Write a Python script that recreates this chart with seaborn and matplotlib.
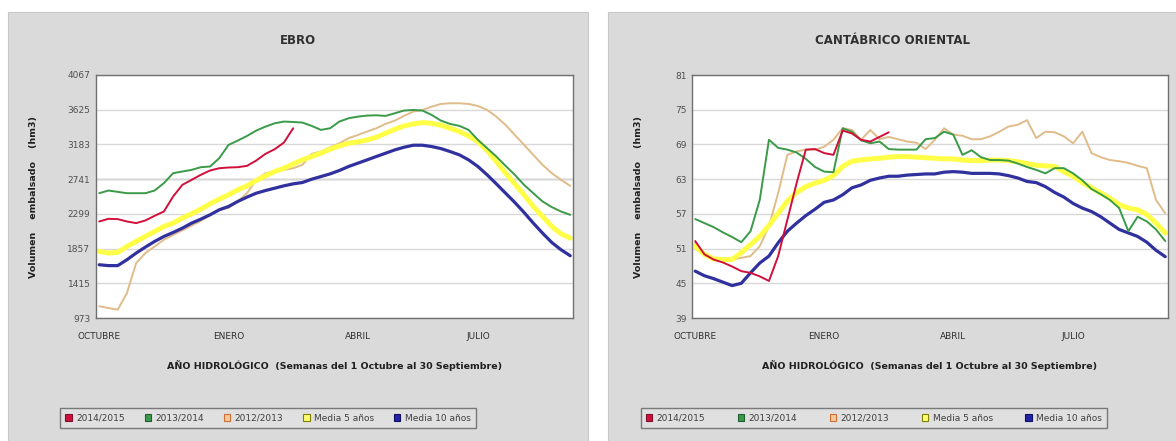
import pandas as pd
import numpy as np
import matplotlib.pyplot as plt
import matplotlib.patches as mpatches
import seaborn as sns

# Semanas del año hidrológico (1 Octubre - 30 Septiembre)
weeks = list(range(1, 53))
month_ticks = [1, 15, 29, 42]
month_labels = ['OCTUBRE', 'ENERO', 'ABRIL', 'JULIO']
series_names = ['2014/2015', '2013/2014', '2012/2013', 'Media 5 años', 'Media 10 años']

# ---- EBRO (hm3) ----
ebro_ticks = [973, 1415, 1857, 2299, 2741, 3183, 3625, 4067]
ebro_2014_2015 = [2202, 2236, 2232, 2202, 2181, 2215, 2274, 2329, 2520, 2668, 2732,
                  2796, 2851, 2880, 2889, 2893, 2910, 2978, 3063, 3122, 3207, 3389]
ebro_2013_2014 = [2562, 2596, 2579, 2562, 2562, 2562, 2596, 2690, 2817, 2838, 2859,
                  2893, 2902, 3008, 3177, 3232, 3291, 3359, 3410, 3452, 3474, 3469,
                  3461, 3419, 3368, 3389, 3474, 3516, 3537, 3550, 3554, 3546, 3580,
                  3614, 3622, 3614, 3558, 3486, 3444, 3419, 3368, 3241, 3135, 3029,
                  2910, 2796, 2668, 2562, 2457, 2385, 2329, 2287]
ebro_2012_2013 = [1122, 1100, 1079, 1291, 1673, 1800, 1884, 1969, 2030, 2090, 2150,
                  2210, 2280, 2351, 2372, 2457, 2562, 2732, 2817, 2838, 2859, 2880,
                  2923, 3063, 3092, 3147, 3198, 3262, 3304, 3347, 3389, 3444, 3486,
                  3546, 3601, 3622, 3664, 3698, 3707, 3707, 3698, 3673, 3622, 3537,
                  3431, 3304, 3177, 3050, 2923, 2817, 2732, 2656]
ebro_media5 = [1821, 1800, 1808, 1884, 1948, 2012, 2075, 2139, 2181, 2245, 2300,
               2359, 2427, 2486, 2541, 2605, 2656, 2724, 2783, 2838, 2880, 2935,
               2986, 3029, 3071, 3122, 3164, 3198, 3215, 3241, 3274, 3325, 3376,
               3419, 3444, 3461, 3452, 3427, 3389, 3347, 3291, 3219, 3105, 2965,
               2817, 2681, 2541, 2393, 2266, 2139, 2045, 1990]
ebro_media10 = [1651, 1640, 1640, 1715, 1800, 1876, 1948, 2011, 2062, 2117, 2181,
                2232, 2287, 2351, 2393, 2457, 2512, 2562, 2596, 2626, 2656, 2681,
                2698, 2740, 2774, 2808, 2851, 2902, 2944, 2986, 3029, 3071, 3113,
                3147, 3173, 3173, 3156, 3130, 3092, 3050, 2986, 2902, 2796, 2681,
                2562, 2444, 2317, 2181, 2054, 1935, 1842, 1766]

# ---- CANTÁBRICO ORIENTAL (hm3) ----
cant_ticks = [39, 45, 51, 57, 63, 69, 75, 81]
cant_2014_2015 = [52.3, 50.0, 49.1, 48.6, 47.9, 47.1, 46.8, 46.2, 45.4, 49.7, 56.0,
                  62.3, 68.1, 68.2, 67.5, 67.2, 71.4, 70.9, 69.8, 69.5, 70.3, 71.1]
cant_2013_2014 = [56.1, 55.4, 54.7, 53.8, 53.0, 52.1, 54.0, 59.4, 69.8, 68.4, 68.1,
                  67.6, 66.5, 65.1, 64.3, 64.2, 71.8, 71.2, 69.7, 69.2, 69.5, 68.2,
                  68.1, 68.1, 68.1, 69.9, 70.1, 71.2, 70.7, 67.2, 68.0, 66.8, 66.3,
                  66.3, 66.2, 65.7, 65.1, 64.6, 64.0, 64.9, 64.9, 64.0, 62.8, 61.3,
                  60.4, 59.4, 58.0, 54.0, 56.5, 55.7, 54.3, 52.3]
cant_2012_2013 = [52.0, 49.7, 49.2, 49.1, 49.1, 49.4, 49.7, 51.4, 54.9, 60.6, 67.2,
                  67.8, 68.1, 68.1, 68.6, 69.8, 71.8, 71.5, 69.8, 71.5, 69.9, 70.3,
                  69.9, 69.5, 69.3, 68.2, 69.8, 71.8, 70.7, 70.5, 69.9, 69.9, 70.4,
                  71.2, 72.1, 72.4, 73.2, 70.1, 71.2, 71.1, 70.4, 69.2, 71.2, 67.5,
                  66.8, 66.3, 66.1, 65.8, 65.3, 64.9, 59.4, 57.1]
cant_media5 = [51.4, 50.0, 49.2, 49.1, 49.1, 50.3, 51.7, 53.1, 55.0, 57.1, 59.2,
               60.7, 61.7, 62.3, 62.8, 63.6, 65.2, 66.1, 66.3, 66.5, 66.6, 66.8,
               66.9, 66.9, 66.8, 66.7, 66.6, 66.5, 66.5, 66.3, 66.2, 66.2, 66.3,
               66.3, 66.2, 66.0, 65.7, 65.4, 65.3, 65.2, 64.3, 63.5, 62.4, 61.5,
               60.6, 59.7, 58.6, 58.0, 57.7, 56.9, 55.4, 53.7]
cant_media10 = [47.1, 46.3, 45.8, 45.2, 44.6, 45.0, 46.8, 48.5, 49.7, 52.0, 54.0,
                55.4, 56.7, 57.8, 59.0, 59.4, 60.3, 61.5, 62.0, 62.8, 63.2, 63.5,
                63.5, 63.7, 63.8, 63.9, 63.9, 64.2, 64.3, 64.2, 64.0, 64.0, 64.0,
                63.9, 63.6, 63.2, 62.6, 62.4, 61.7, 60.7, 59.9, 58.8, 58.0, 57.4,
                56.5, 55.4, 54.3, 53.7, 53.1, 52.1, 50.7, 49.6]

# Colores y grosores de cada serie
line_colors = {'2014/2015': '#d0103a', '2013/2014': '#3a9a48', '2012/2013': '#e0bc8a',
               'Media 5 años': '#ffff48', 'Media 10 años': '#30309e'}
line_widths = {'2014/2015': 1.4, '2013/2014': 1.4, '2012/2013': 1.4,
               'Media 5 años': 3.6, 'Media 10 años': 2.3}
# orden de dibujo (las de abajo primero)
draw_order = ['2012/2013', 'Media 5 años', 'Media 10 años', '2013/2014', '2014/2015']
legend_face = {'2014/2015': '#d0103a', '2013/2014': '#3a9a48', '2012/2013': '#f4c89a',
               'Media 5 años': '#ffff70', 'Media 10 años': '#2222aa'}
legend_edge = {'2014/2015': '#801030', '2013/2014': '#206030', '2012/2013': '#d07030',
               'Media 5 años': '#808000', 'Media 10 años': '#101060'}


def build_df(values):
    rows = []
    for name, vals in zip(series_names, values):
        for w, v in zip(weeks, vals):
            rows.append({'Semana': w, 'Volumen': v, 'Serie': name})
    return pd.DataFrame(rows)


def draw_panel(ax, df, ticks, title, panel_rect, ylabel_x, legend_x, col_space):
    # Panel gris de fondo
    fig.patches.append(mpatches.Rectangle((panel_rect[0], 0), panel_rect[1], 0.973,
                                          transform=fig.transFigure, facecolor='#dadada',
                                          edgecolor='#c8c8c8', lw=0.8, zorder=-10))
    for name in draw_order:
        sub = df[df['Serie'] == name]
        sns.lineplot(data=sub, x='Semana', y='Volumen', ax=ax, color=line_colors[name],
                     linewidth=line_widths[name], legend=False)
    ax.set_facecolor('white')
    ax.set_xlim(0.65, 52.3)
    ax.set_ylim(ticks[0], ticks[-1])
    ax.set_yticks(ticks)
    ax.set_yticklabels([str(t) for t in ticks], fontsize=6.5, color='#505050')
    ax.set_xticks(month_ticks)
    ax.set_xticklabels(month_labels, fontsize=6.5, color='#303030')
    ax.set_xticks(weeks, minor=True)
    ax.tick_params(axis='x', which='major', length=5, color='#606060', pad=5)
    ax.tick_params(axis='x', which='minor', length=3, color='#606060')
    ax.tick_params(axis='y', length=3, color='#606060', pad=1)
    ax.grid(axis='y', color='#d8d8d8', linewidth=1.0)
    ax.grid(axis='x', visible=False)
    ax.set_axisbelow(True)
    for s in ax.spines.values():
        s.set_color('#707070')
        s.set_linewidth(1.0)
    ax.set_xlabel('')
    ax.set_ylabel('')
    cx = panel_rect[0] + panel_rect[1] / 2
    fig.text(cx, 0.908, title, ha='center', va='center', fontsize=8.5,
             fontweight='bold', color='#303030')
    pos = ax.get_position()
    fig.text(pos.x0 + pos.width / 2, 0.172,
             'AÑO HIDROLÓGICO  (Semanas del 1 Octubre al 30 Septiembre)',
             ha='center', va='center', fontsize=6.8, fontweight='bold', color='#202020')
    fig.text(ylabel_x, pos.y0 + pos.height / 2, 'Volumen    embalsado    (hm3)',
             rotation=90, ha='center', va='center', fontsize=6.8, fontweight='bold',
             color='#202020')
    handles = [mpatches.Patch(facecolor=legend_face[n], edgecolor=legend_edge[n], lw=0.8)
               for n in series_names]
    fig.legend(handles, series_names, loc='center', bbox_to_anchor=(legend_x, 0.052),
               ncol=5, fontsize=6.5, frameon=True, fancybox=False, edgecolor='#606060',
               facecolor='#e2e2e2', handlelength=0.7, handleheight=0.7,
               handletextpad=0.5, columnspacing=col_space, borderpad=0.6,
               labelcolor='#404040')


sns.set_style('white')
plt.rcParams['font.family'] = ['DejaVu Sans']

fig = plt.figure(figsize=(11.76, 4.41), dpi=100)
ax1 = fig.add_axes([96 / 1176, 1 - 318 / 441, 477 / 1176, 243 / 441])
ax2 = fig.add_axes([692 / 1176, 1 - 318 / 441, 476 / 1176, 243 / 441])

ebro_df = build_df([ebro_2014_2015, ebro_2013_2014, ebro_2012_2013, ebro_media5, ebro_media10])
cant_df = build_df([cant_2014_2015, cant_2013_2014, cant_2012_2013, cant_media5, cant_media10])

draw_panel(ax1, ebro_df, ebro_ticks, 'EBRO', (8 / 1176, 580 / 1176),
           34 / 1176, 268 / 1176, 2.2)
draw_panel(ax2, cant_df, cant_ticks, 'CANTÁBRICO ORIENTAL', (608 / 1176, 568 / 1176),
           638 / 1176, 874 / 1176, 3.6)

# linea central del Ebro algo más oscura
ax1.axhline(2741, color='#a0a0a0', linewidth=1.0, zorder=0.5)

plt.savefig('out.png', dpi=100)
